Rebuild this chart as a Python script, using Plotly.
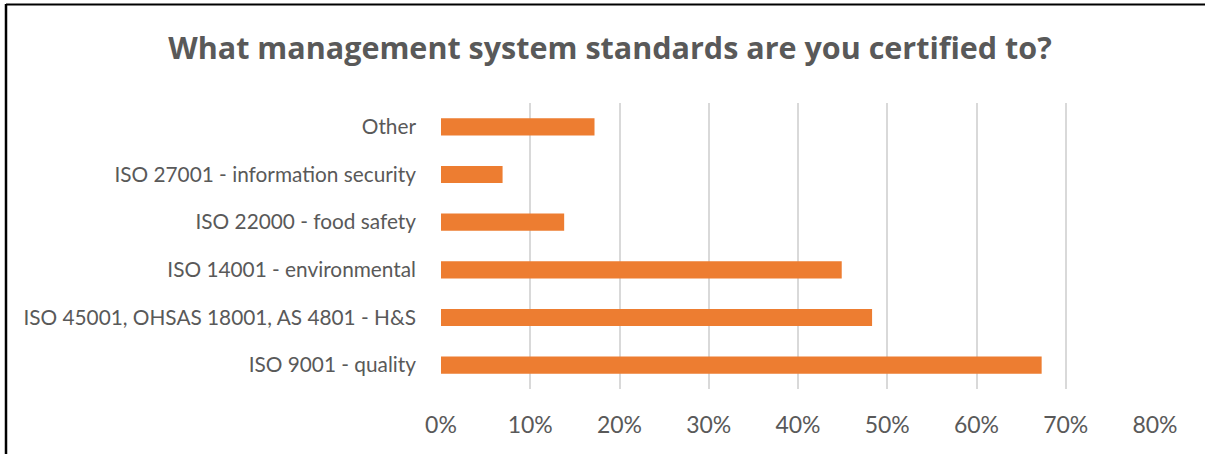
import plotly.graph_objects as go

categories = [
    "ISO 9001 - quality",
    "ISO 45001, OHSAS 18001, AS 4801 - H&S",
    "ISO 14001 - environmental",
    "ISO 22000 - food safety",
    "ISO 27001 - information security",
    "Other",
]
values = [0.673, 0.483, 0.449, 0.138, 0.069, 0.172]
tick_vals = [0, 0.1, 0.2, 0.3, 0.4, 0.5, 0.6, 0.7, 0.8]
tick_text = ["0%", "10%", "20%", "30%", "40%", "50%", "60%", "70%", "80%"]

W, H = 1205, 454
ML, MR, MT, MB = 441, 50, 103, 65
pw = W - ML - MR
ph = H - MT - MB

fig = go.Figure(go.Bar(
    x=values, y=categories, orientation="h",
    marker=dict(color="#ED7D31", line=dict(width=0)),
    hoverinfo="x+y",
))

fig.update_layout(
    width=W, height=H,
    margin=dict(l=ML, r=MR, t=MT, b=MB),
    paper_bgcolor="white", plot_bgcolor="white",
    bargap=0.64,
    showlegend=False,
    font=dict(family="Lato, Open Sans, sans-serif", color="#595959"),
    title=dict(
        text="<b>What management system standards are you certified to?</b>",
        x=610 / W, xref="container", xanchor="center",
        y=1 - 48 / H, yref="container", yanchor="middle",
        font=dict(size=30.5, color="#595959", family="Open Sans, Lato, sans-serif"),
    ),
    xaxis=dict(
        range=[0, 0.8], tickvals=tick_vals, ticktext=tick_text,
        showgrid=True, gridcolor="#D9D9D9", gridwidth=2,
        zeroline=False, showline=False, ticks="",
        tickfont=dict(size=23, color="#595959"),
        ticklabelstandoff=20, fixedrange=True,
    ),
    yaxis=dict(
        showgrid=False, zeroline=False, showline=False, ticks="",
        tickfont=dict(size=20.8, color="#595959"),
        ticklabelstandoff=24, fixedrange=True,
    ),
    shapes=[
        dict(type="line", xref="paper", yref="paper",
             x0=(6 - ML) / pw, x1=(6 - ML) / pw,
             y0=(H - 4 - MB) / ph, y1=-MB / ph - 0.05,
             line=dict(color="black", width=2.5)),
        dict(type="line", xref="paper", yref="paper",
             x0=(6 - ML) / pw, x1=(W + 10 - ML) / pw,
             y0=(H - 4.5 - MB) / ph, y1=(H - 4.5 - MB) / ph,
             line=dict(color="black", width=2)),
    ],
)

fig.write_html(
    "out.html",
    config={"displayModeBar": False},
    post_script="document.body.style.margin='0';document.body.style.overflow='hidden';",
)
